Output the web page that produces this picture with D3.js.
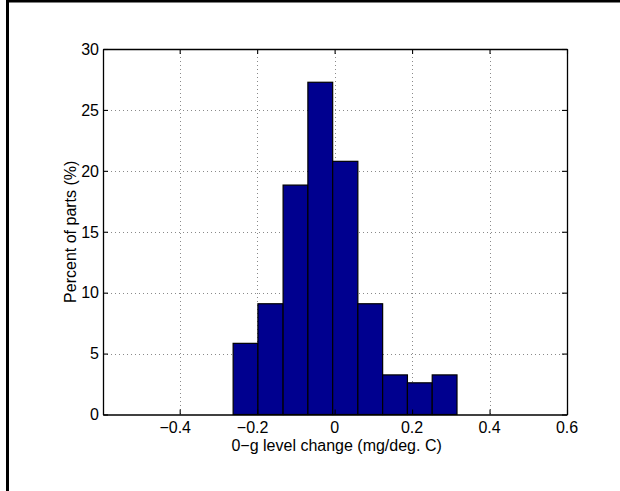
<!DOCTYPE html>
<html>
<head>
<meta charset="utf-8">
<script src="https://cdn.jsdelivr.net/npm/d3@7"></script>
<style>
  html, body { margin: 0; padding: 0; background: #fff; }
  svg { display: block; font-family: 'Liberation Sans', Arial, Helvetica, sans-serif; }
</style>
</head>
<body>
<svg id="chart"></svg>
<script>
const binEdges = [-0.262, -0.198, -0.133, -0.069, -0.005, 0.06, 0.124, 0.188, 0.252, 0.316];
const percents = [5.84, 9.09, 18.83, 27.27, 20.78, 9.09, 3.25, 2.6, 3.25];
const xTicks = [-0.4, -0.2, 0, 0.2, 0.4, 0.6];
const yTicks = [0, 5, 10, 15, 20, 25, 30];
const xLabel = '0\u2212g level change (mg/deg. C)';
const yLabel = 'Percent of parts (%)';

const WIDTH = 620;
const HEIGHT = 491;
const PLOT = { LEFT: 103, RIGHT: 567, TOP: 49, BOTTOM: 414.5 };
const FONT_SIZE = 16;
const TICK_LEN = 5;
const BAR_COLOR = '#00008f';

const bins = d3.range(percents.length).map((i) =>
  Object({ x0: binEdges[i], x1: binEdges[i + 1], value: percents[i] }),
);

const svg = d3.select('#chart').attr('width', WIDTH).attr('height', HEIGHT);

const x = d3.scaleLinear([-0.598, 0.6], [PLOT.LEFT, PLOT.RIGHT]);
const y = d3.scaleLinear([0, 30], [PLOT.BOTTOM, PLOT.TOP]);

// outer frame (only left and top edges are visible in the picture)
svg.append('line').attr('x1', 7.5).attr('x2', 7.5).attr('y1', 0).attr('y2', HEIGHT)
  .attr('stroke', '#000').attr('stroke-width', 3);
svg.append('line').attr('x1', 6).attr('x2', WIDTH).attr('y1', 1.3).attr('y2', 1.3)
  .attr('stroke', '#000').attr('stroke-width', 2.6);

// dotted grid
const grid = svg.append('g').attr('stroke', '#8a8a8a').attr('stroke-width', 1).attr('stroke-dasharray', '1,3');
grid.selectAll('.gx').data(xTicks).join('line')
  .attr('x1', (d) => Math.round(x(d)) + 0.5).attr('x2', (d) => Math.round(x(d)) + 0.5)
  .attr('y1', PLOT.TOP).attr('y2', PLOT.BOTTOM);
grid.selectAll('.gy').data(yTicks.slice(1, -1)).join('line')
  .attr('y1', (d) => Math.round(y(d)) + 0.5).attr('y2', (d) => Math.round(y(d)) + 0.5)
  .attr('x1', PLOT.LEFT).attr('x2', PLOT.RIGHT);

// histogram bars
svg.append('g').selectAll('rect').data(bins).join('rect')
  .attr('x', (d) => x(d.x0))
  .attr('width', (d) => x(d.x1) - x(d.x0))
  .attr('y', (d) => y(d.value))
  .attr('height', (d) => y(0) - y(d.value))
  .attr('fill', BAR_COLOR)
  .attr('stroke', '#000')
  .attr('stroke-width', 1.2);

// axes: inward ticks on all four sides
const bottomAxis = d3.axisBottom(x).tickValues(xTicks).tickSizeInner(-TICK_LEN).tickSizeOuter(0).tickFormat('');
const topAxis = d3.axisTop(x).tickValues(xTicks).tickSizeInner(-TICK_LEN).tickSizeOuter(0).tickFormat('');
const leftAxis = d3.axisLeft(y).tickValues(yTicks).tickSizeInner(-TICK_LEN).tickSizeOuter(0).tickFormat('');
const rightAxis = d3.axisRight(y).tickValues(yTicks).tickSizeInner(-TICK_LEN).tickSizeOuter(0).tickFormat('');

const styleAxis = (g) => {
  g.selectAll('path').attr('stroke', '#000').attr('stroke-width', 1.3);
  g.selectAll('line').attr('stroke', '#000').attr('stroke-width', 1.1);
};
svg.append('g').attr('transform', `translate(0,${PLOT.BOTTOM})`).call(bottomAxis).call(styleAxis);
svg.append('g').attr('transform', `translate(0,${PLOT.TOP})`).call(topAxis).call(styleAxis);
svg.append('g').attr('transform', `translate(${PLOT.LEFT},0)`).call(leftAxis).call(styleAxis);
svg.append('g').attr('transform', `translate(${PLOT.RIGHT},0)`).call(rightAxis).call(styleAxis);

// tick labels
const fmt = (d) => (d < 0 ? '\u2212' : '') + d3.format('')(Math.abs(d));
svg.append('g').selectAll('text').data(xTicks).join('text')
  .attr('x', (d) => x(d) + (d < 0 ? -4.5 : 0))
  .attr('y', 432.5)
  .attr('text-anchor', 'middle')
  .attr('font-size', FONT_SIZE)
  .text(fmt);
svg.append('g').selectAll('text').data(yTicks).join('text')
  .attr('x', 99)
  .attr('y', (d) => y(d))
  .attr('dy', '0.36em')
  .attr('text-anchor', 'end')
  .attr('font-size', FONT_SIZE)
  .text(fmt);

// axis titles
svg.append('text')
  .attr('x', x(0) + 2).attr('y', 450.5)
  .attr('text-anchor', 'middle').attr('font-size', FONT_SIZE)
  .text(xLabel);
svg.append('text')
  .attr('transform', `translate(76,${(PLOT.TOP + PLOT.BOTTOM) / 2}) rotate(-90)`)
  .attr('text-anchor', 'middle').attr('font-size', FONT_SIZE)
  .text(yLabel);
</script>
</body>
</html>
